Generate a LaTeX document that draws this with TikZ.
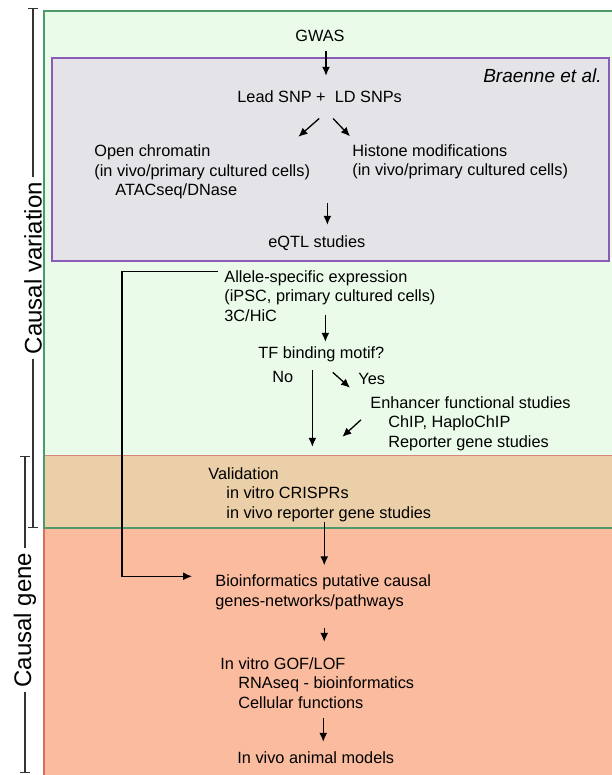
\documentclass[tikz,border=0pt]{standalone}
\usepackage{fontspec}
\setmainfont{Liberation Sans}
\usepackage{tikz}
\usetikzlibrary{arrows.meta,calc,positioning}
\definecolor{panelgreen}{HTML}{EAFBEA}
\definecolor{panelgray}{HTML}{E4E4E8}
\definecolor{paneltan}{HTML}{EBCFA9}
\definecolor{panelsalmon}{HTML}{FBBB9E}
\definecolor{edgegreen}{HTML}{4E9A6A}
\definecolor{edgepurple}{HTML}{8B5CB5}
\definecolor{edgered}{HTML}{DE6A66}
\definecolor{edgetan}{HTML}{D9867A}
\definecolor{bracketgray}{HTML}{333333}

\begin{document}
\begin{tikzpicture}[x=0.5pt,y=-0.5pt,font=\fontsize{8.15}{9.75}\selectfont]
  \tikzset{txt/.style={inner sep=0pt, anchor=base west, align=left}, arr/.style={-{Latex[length=4.5pt,width=4pt]}, line width=0.65pt}, sidelabel/.style={rotate=90, inner sep=0pt, font=\fontsize{12}{14}\selectfont}, bracket/.style={line width=0.7pt, draw=bracketgray}}
  \useasboundingbox (0,0) rectangle (611,775);
  \fill[panelgreen] (44,11) rectangle (620,455);
  \fill[paneltan] (44,455) rectangle (620,528);
  \fill[panelsalmon] (44,528) rectangle (620,790);
  \draw[edgetan, line width=0.5pt] (44,455) -- (620,455);
  \draw[edgered, line width=0.8pt] (44,528) -- (44,790);
  \draw[edgegreen, line width=0.8pt] (620,11) -- (44,11) -- (44,528) -- (620,528);
  \filldraw[fill=panelgray, draw=edgepurple, line width=0.8pt] (52,58) rectangle (609,261);

  \node[txt] (gwas) at (295,42) {GWAS};
  \node[inner sep=0pt, anchor=base east] (braenne) at (602,83) {\fontsize{9.5}{11}\selectfont\itshape Braenne et al.};
  \node[txt] (lead) at (237,103) {Lead SNP +\ \ LD SNPs};
  \node[txt] (open) at (94,196) {Open chromatin\\(in vivo/primary cultured cells)\\\hspace*{10.5pt}ATACseq/DNase};
  \node[txt] (histone) at (352,176) {Histone modifications\\(in vivo/primary cultured cells)};
  \node[txt] (eqtl) at (268,247) {eQTL studies};
  \node[txt] (allele) at (224,321) {Allele-specific expression\\(iPSC, primary cultured cells)\\3C/HiC};
  \node[txt] (tf) at (258,358) {TF binding motif?};
  \node[txt] (no) at (272,382) {No};
  \node[txt] (yes) at (358,384) {Yes};
  \node[txt] (enhancer) at (370,447) {Enhancer functional studies\\\hspace*{9pt}ChIP, HaploChIP\\\hspace*{9pt}Reporter gene studies};
  \node[txt] (valid) at (208,518) {Validation\\\hspace*{9pt}in vitro CRISPRs\\\hspace*{9pt}in vivo reporter gene studies};
  \node[txt] (bioinf) at (215,606) {Bioinformatics putative causal\\genes-networks/pathways};
  \node[txt] (gof) at (220,708) {In vitro GOF/LOF\\\hspace*{9pt}RNAseq - bioinformatics\\\hspace*{9pt}Cellular functions};
  \node[txt] (animal) at (237,763) {In vivo animal models};

  \draw[arr] ($(gwas.south)+(3pt,-4pt)$) -- ($(gwas.south |- lead.north)+(3pt,7.5pt)$);
  \draw[arr] ($(lead.south)+(-0.25pt,-7.5pt)$) -- ($(open.north east)+(-6pt,4pt)$);
  \draw[arr] ($(lead.south)+(6.75pt,-7.5pt)$) -- ($(histone.north west)+(-1pt,4pt)$);
  \draw[arr] ($(eqtl.north |- open.south)+(5.25pt,-1.75pt)$) -- ($(eqtl.north)+(5.25pt,5pt)$);
  \draw[arr] ($(allele.north west)+(-3pt,-1pt)$) -| ($(bioinf.north west)+(-46.5pt,-1pt)$) -- ($(bioinf.north west)+(-11.5pt,-1pt)$);
  \draw[arr] ($(tf.north |- allele.south)+(2pt,3.5pt)$) -- ($(tf.north)+(2pt,2pt)$);
  \draw[arr] ($(tf.south)+(-4.5pt,-4.25pt)$) -- ($(tf.south |- valid.north)+(-4.5pt,10pt)$);
  \draw[arr] ($(tf.south east)+(-26pt,-5.25pt)$) -- ($(enhancer.north west)+(-10pt,4pt)$);
  \draw[arr] ($(enhancer.north west)+(-4.5pt,-12pt)$) -- ($(valid.north)+(11.25pt,15pt)$);
  \draw[arr] ($(valid.south)+(2.25pt,0pt)$) -- ($(valid.south |- bioinf.north)+(2.25pt,4.5pt)$);
  \draw[arr] ($(bioinf.south)+(0.5pt,-9.25pt)$) -- ($(bioinf.south |- gof.north)+(0.5pt,7.5pt)$);
  \draw[arr] ($(gof.south)+(3pt,-4.5pt)$) -- ($(gof.south |- animal.north)+(3pt,4.5pt)$);

  \coordinate (vartop) at (33,8);
  \coordinate (varbot) at (33,528);
  \node[sidelabel] (varlabel) at (33,268) {Causal variation};
  \draw[bracket, {Bar[width=5pt]}-, shorten >=2.5pt] (vartop) -- (varlabel.east);
  \draw[bracket, -{Bar[width=5pt]}, shorten <=2.5pt] (varlabel.west) -- (varbot);
  \coordinate (genetop) at (25,456);
  \coordinate (genebot) at (25,773);
  \node[sidelabel] (genelabel) at (25,620) {Causal gene};
  \draw[bracket, {Bar[width=5pt]}-, shorten >=2pt] (genetop) -- (genelabel.east);
  \draw[bracket, -{Bar[width=5pt]}, shorten <=2pt] (genelabel.west) -- (genebot);
\end{tikzpicture}
\end{document}
